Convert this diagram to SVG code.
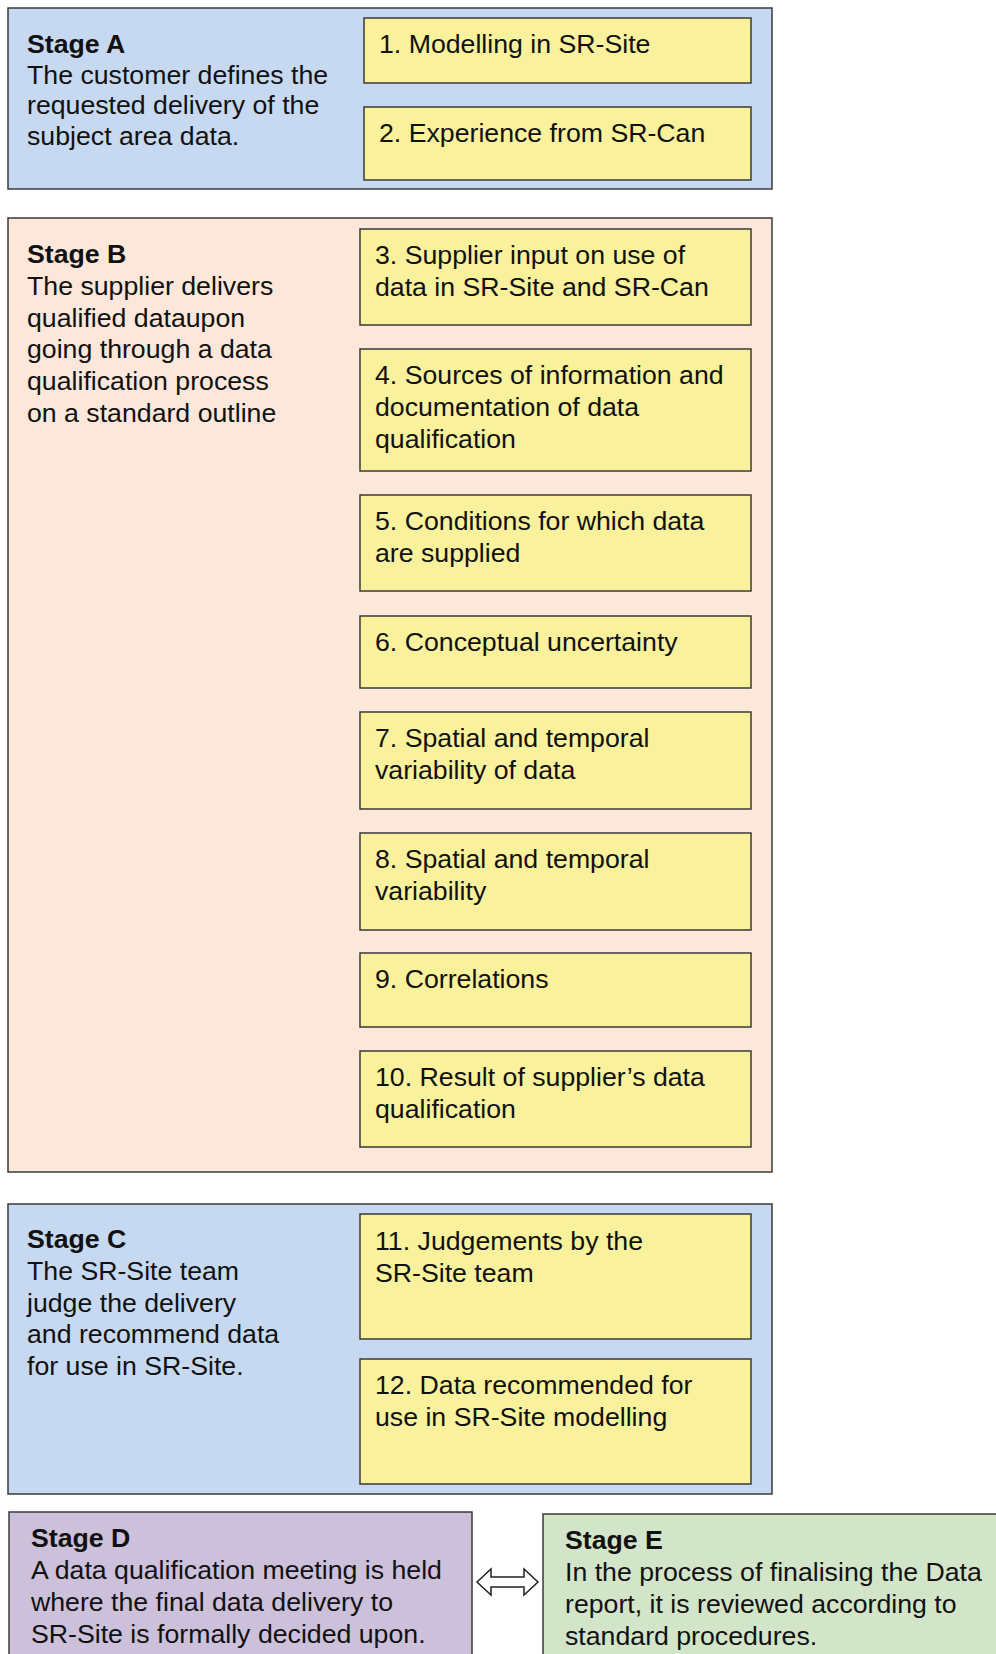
<svg xmlns="http://www.w3.org/2000/svg" width="996" height="1654" viewBox="0 0 996 1654">
<style>
text{font-family:"Liberation Sans",Arial,sans-serif;font-size:26.7px;fill:#111}
.b{font-weight:bold}
.stage{stroke:#3a3a3a;stroke-width:1.5}
.blue{fill:#c6d9f0}
.peach{fill:#fce7da}
.purple{fill:#ccc0da}
.green{fill:#d2e5c8}
.item{fill:#f9f19b;stroke:#3a3a3a;stroke-width:1.5}
</style>
<rect width="996" height="1654" fill="#ffffff"/>
<g id="stageA">
<rect class="stage blue" x="8" y="8" width="764" height="181"/>
<text x="27" y="53" class="b">Stage A</text>
<text x="27" y="84">The customer defines the</text>
<text x="27" y="114">requested delivery of the</text>
<text x="27" y="145">subject area data.</text>
</g>
<g id="n1"><rect class="item" x="364" y="18" width="387" height="65"/><text x="379" y="53">1. Modelling in SR-Site</text></g>
<g id="n2"><rect class="item" x="364" y="107" width="387" height="73"/><text x="379" y="142">2. Experience from SR-Can</text></g>
<g id="stageB">
<rect class="stage peach" x="8" y="218" width="764" height="954"/>
<text x="27" y="263" class="b">Stage B</text>
<text x="27" y="295">The supplier delivers</text>
<text x="27" y="327">qualified dataupon</text>
<text x="27" y="358">going through a data</text>
<text x="27" y="390">qualification process</text>
<text x="27" y="422">on a standard outline</text>
</g>
<g id="n3"><rect class="item" x="360" y="229" width="391" height="96"/><text x="375" y="264">3. Supplier input on use of</text><text x="375" y="296">data in SR-Site and SR-Can</text></g>
<g id="n4"><rect class="item" x="360" y="349" width="391" height="122"/><text x="375" y="384">4. Sources of information and</text><text x="375" y="416">documentation of data</text><text x="375" y="448">qualification</text></g>
<g id="n5"><rect class="item" x="360" y="495" width="391" height="96"/><text x="375" y="530">5. Conditions for which data</text><text x="375" y="562">are supplied</text></g>
<g id="n6"><rect class="item" x="360" y="616" width="391" height="72"/><text x="375" y="651">6. Conceptual uncertainty</text></g>
<g id="n7"><rect class="item" x="360" y="712" width="391" height="97"/><text x="375" y="747">7. Spatial and temporal</text><text x="375" y="779">variability of data</text></g>
<g id="n8"><rect class="item" x="360" y="833" width="391" height="97"/><text x="375" y="868">8. Spatial and temporal</text><text x="375" y="900">variability</text></g>
<g id="n9"><rect class="item" x="360" y="953" width="391" height="74"/><text x="375" y="988">9. Correlations</text></g>
<g id="n10"><rect class="item" x="360" y="1051" width="391" height="96"/><text x="375" y="1086">10. Result of supplier’s data</text><text x="375" y="1118">qualification</text></g>
<g id="stageC">
<rect class="stage blue" x="8" y="1204" width="764" height="290"/>
<text x="27" y="1248" class="b">Stage C</text>
<text x="27" y="1280">The SR-Site team</text>
<text x="27" y="1312">judge the delivery</text>
<text x="27" y="1343">and recommend data</text>
<text x="27" y="1375">for use in SR-Site.</text>
</g>
<g id="n11"><rect class="item" x="360" y="1214" width="391" height="125"/><text x="375" y="1250">11. Judgements by the</text><text x="375" y="1282">SR-Site team</text></g>
<g id="n12"><rect class="item" x="360" y="1359" width="391" height="125"/><text x="375" y="1394">12. Data recommended for</text><text x="375" y="1426">use in SR-Site modelling</text></g>
<g id="stageD">
<rect class="stage purple" x="9" y="1512" width="463" height="150"/>
<text x="31" y="1547" class="b">Stage D</text>
<text x="31" y="1579">A data qualification meeting is held</text>
<text x="31" y="1611">where the final data delivery to</text>
<text x="31" y="1643">SR-Site is formally decided upon.</text>
</g>
<g id="stageE">
<rect class="stage green" x="543" y="1514" width="460" height="150"/>
<text x="565" y="1549" class="b">Stage E</text>
<text x="565" y="1581">In the process of finalising the Data</text>
<text x="565" y="1613">report, it is reviewed according to</text>
<text x="565" y="1645">standard procedures.</text>
</g>
<g id="connectors">
<path d="M477,1582 L491,1569 L491,1577 L524,1577 L524,1569 L538,1582 L524,1595 L524,1587 L491,1587 L491,1595 Z" fill="#ffffff" stroke="#222" stroke-width="1.5" stroke-linejoin="miter"/>
</g>
</svg>
